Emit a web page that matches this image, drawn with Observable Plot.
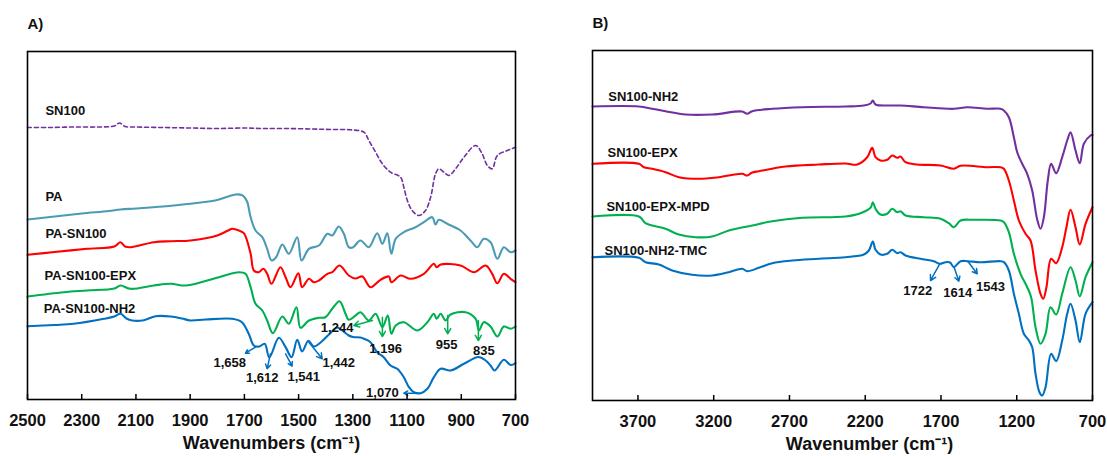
<!DOCTYPE html>
<html><head><meta charset="utf-8">
<script src="https://cdn.jsdelivr.net/npm/d3@7"></script>
<script src="https://cdn.jsdelivr.net/npm/@observablehq/plot@0.6"></script>
<style>
body{margin:0;background:#fff;font-family:"Liberation Sans",Arial,sans-serif;}
#wrap{position:relative;width:1107px;height:456px;overflow:hidden;background:#fff}
#a{position:absolute;left:0;top:0}
#b{position:absolute;left:550px;top:0}
</style></head><body><div id="wrap"><div id="a"></div><div id="b"></div></div>
<script>
// ---------- Panel A data: [wavenumber (cm-1), transmittance (a.u., offset)] ----------
const ticksA = [2500, 2300, 2100, 1900, 1700, 1500, 1300, 1100, 900, 700];
const SN100 = [[2500,272],[2420,272],[2330,272.5],[2240,272.5],[2180,273.5],[2160,276.5],[2140,273],[2100,272.5],[2000,272],[1900,271.5],[1800,271],[1700,271.5],[1634,271],[1550,271],[1450,270.5],[1380,270],[1310,269.7],[1259,267.3],[1241,259],[1216,247.3],[1191,235.7],[1161,227.3],[1124,222.3],[1112,212.3],[1099,199],[1081,189],[1056,184],[1032,189],[1013,202.3],[995,225.7],[983,230.7],[964,227.3],[946,224],[921,230.7],[890,242.3],[847,254],[823,245.7],[804,234],[786,230.7],[767,244],[730,249],[700,252.3]];
const PA = [[2500,180],[2400,183],[2300,186],[2200,188.5],[2157,190],[2100,191],[2000,193],[1899,195.7],[1800,199.5],[1760,203],[1733,205],[1710,204.5],[1702,203],[1690,198],[1677,182.3],[1659,169],[1634,162.3],[1616,150.7],[1600,139],[1583,142.3],[1560,155],[1536,145.7],[1505,162.3],[1489,139],[1462,150.7],[1425,154],[1394,165.7],[1376,164],[1352,173],[1333,165.7],[1315,152.3],[1300,152],[1272,159],[1241,152.3],[1210,166.3],[1191,155.7],[1173,166.3],[1158,145.7],[1142,160.7],[1112,167.3],[1069,172.3],[1038,177.3],[1007,182.3],[995,175],[983,179.7],[952,175.7],[903,169],[866,159],[841,152.3],[817,160.7],[792,157.3],[767,140.7],[743,152.3],[718,147.3],[700,149]];
const PA_SN100 = [[2500,144.7],[2400,147.5],[2280,150.7],[2180,153],[2157,157.3],[2140,153],[2120,152.3],[2034,157.3],[1972,158.3],[1899,159],[1800,164],[1760,169],[1745,170.7],[1720,169],[1702,166.3],[1677,145.7],[1665,129],[1647,127.3],[1630,130.7],[1616,125.7],[1600,115.7],[1567,132.3],[1548,122.3],[1530,112.3],[1501,126.3],[1487,112.3],[1462,120.7],[1444,117.3],[1425,119],[1394,125.7],[1376,127.3],[1349,134],[1315,124],[1290,121],[1265,123],[1235,112.3],[1198,119.7],[1167,123],[1158,117.3],[1124,124],[1087,120.7],[1038,125.7],[1001,135.7],[991,132.3],[976,135],[903,134],[853,127.3],[810,134],[786,125.7],[767,116.3],[743,125.7],[718,120.7],[700,117.3]];
const PA_SN100_EPX = [[2500,103],[2366,107.3],[2280,109],[2180,111],[2157,114],[2120,110.7],[2034,114],[1972,115.7],[1917,114],[1850,118],[1794,122.3],[1720,127.3],[1696,125.7],[1677,112.3],[1659,95.7],[1634,89],[1616,79],[1595,66.3],[1560,83],[1536,75.7],[1508,92.3],[1493,71.7],[1462,79],[1425,81.7],[1401,82.3],[1376,90.7],[1349,98.3],[1327,85.7],[1315,79.7],[1290,84],[1272,87.3],[1241,79],[1216,85.7],[1191,72.3],[1171,84],[1158,65.7],[1142,74],[1112,77.3],[1062,69],[1025,77.3],[1001,85.7],[991,80.7],[976,85.7],[958,79],[940,85],[884,87.3],[847,80.7],[835,69],[817,77.3],[792,73],[767,63],[743,73],[718,70.7],[700,73]];
const PA_SN100_NH2 = [[2500,73.3],[2400,74.5],[2330,75.7],[2218,80.7],[2180,83],[2157,85.7],[2135,81],[2114,79],[2071,79.3],[2028,83.3],[1972,83],[1930,81],[1899,79],[1843,80],[1745,80.7],[1709,77.3],[1684,65.7],[1665,54],[1645,53],[1625,55.7],[1608,42],[1573,61.7],[1548,52.3],[1526,42.3],[1505,59.7],[1487,48],[1464,58.7],[1444,53],[1419,57],[1388,65],[1358,72],[1339,69],[1315,64],[1300,62.5],[1272,62],[1259,60.7],[1235,57.3],[1210,47.3],[1186,42.3],[1161,34],[1136,30.7],[1112,22.3],[1093,12.3],[1075,7.3],[1050,6.3],[1025,10.7],[1001,22.3],[976,30.7],[940,29],[890,35.7],[837,42.5],[810,39],[792,34],[777,29],[743,39.7],[718,34.5],[700,36.5]];
const namesA = ["SN100", "PA", "PA-SN100", "PA-SN100-EPX", "PA-SN100-NH2"];
const labelWnA = [2434, 2434, 2434, 2437, 2440];
const labelValA = [288.3, 202.3, 165.7, 123.3, 90.3];
const peaksA = ["1,658", "1,612", "1,541", "1,442", "1,244", "1,196", "955", "835", "1,070"];
const peakTextWnA = [1754, 1634, 1481, 1352, 1358, 1179, 954, 817, 1191];
const peakTextValA = [36.3, 21.3, 22.3, 36.3, 71.7, 50.7, 55, 49, 6.3];
const arrowFromA = [[1659,52.3],[1604,45.7],[1548,45.7],[1462,57.3],[1228,79],[1191,82.3],[950,84],[837,79],[1062,6.3]];
const arrowToA = [[1696,46.3],[1616,30.7],[1524,33.3],[1413,40.7],[1296,74],[1191,63],[950,65.7],[837,59],[1112,6.3]];
const arrowSeriesA = ["PA-SN100-NH2","PA-SN100-NH2","PA-SN100-NH2","PA-SN100-NH2","PA-SN100-EPX","PA-SN100-EPX","PA-SN100-EPX","PA-SN100-EPX","PA-SN100-NH2"];

// ---------- Panel B data ----------
const ticksB = [3700, 3200, 2700, 2200, 1700, 1200, 700];
const SN100_NH2 = [[4000,294],[3694,294],[3606,291.7],[3518,289.3],[3386,286],[3210,286],[3012,289],[2979,286.7],[2946,289.3],[2814,291.7],[2616,293.3],[2330,294],[2209,295],[2165,297],[2150,300],[2132,296],[2033,295],[1967,295],[1813,293.3],[1615,291.7],[1527,293.3],[1395,291.7],[1307,291.7],[1285,290],[1252,283.3],[1219,263.3],[1197,248.3],[1164,236.7],[1131,226.7],[1098,210],[1065,181],[1043,171.7],[1021,183.3],[995,220],[973,236.7],[940,227.3],[900,243.3],[867,260],[845,268.3],[812,250],[784,237.3],[757,256.7],[713,265],[700,265.7]];
const SN100_EPX = [[4000,236.7],[3694,236.7],[3661,233.3],[3606,231.7],[3518,228.3],[3430,223.3],[3298,221.7],[3166,223.3],[3012,226.7],[2979,225],[2946,228],[2902,229.3],[2726,234],[2506,236],[2330,237],[2253,236],[2187,243.3],[2154,252.7],[2132,243.3],[2099,240],[2055,240.7],[2022,245],[1989,242.7],[1967,244],[1934,238.3],[1857,236],[1703,235],[1615,231.7],[1571,234.7],[1395,233.3],[1307,233.3],[1285,231.7],[1252,220],[1219,200],[1186,180],[1142,166.7],[1109,160],[1076,130],[1043,106.7],[1025,101.7],[1004,113.3],[973,141.7],[940,137.3],[900,153.3],[872,173.3],[845,190.7],[812,173.3],[784,156],[746,176.7],[700,193.3]];
const SN100_EPX_MPD = [[4000,184],[3694,184],[3650,177.3],[3606,175],[3518,171.7],[3430,166],[3320,163.3],[3210,164],[3100,170],[2946,175],[2814,179.3],[2616,182.7],[2330,184],[2231,187.3],[2165,192.7],[2150,198.3],[2132,191.7],[2099,186],[2055,186.7],[2022,191.7],[1989,188.3],[1967,189.3],[1934,185],[1813,183.3],[1703,181.7],[1648,177.3],[1615,173.3],[1571,180],[1483,180.7],[1307,180],[1285,178.3],[1252,168.3],[1219,146.7],[1175,126.7],[1131,113.3],[1105,103.3],[1076,73.3],[1043,56.7],[1010,66.7],[977,93.3],[940,86],[900,106.7],[845,133.3],[812,120],[784,104],[746,123.3],[700,138.3]];
const SN100_NH2_TMC = [[4000,143.3],[3694,142.7],[3650,138.3],[3562,136],[3474,130],[3342,125.7],[3210,125],[3100,128.3],[3012,131.7],[2979,129.3],[2902,132.7],[2814,137.3],[2682,140],[2506,141.7],[2330,143.3],[2209,146],[2176,150],[2150,159],[2132,150.7],[2099,146],[2055,146.7],[2022,150.7],[1989,147.3],[1967,148.3],[1934,145],[1835,141.7],[1747,139.3],[1708,136.7],[1670,138.3],[1640,138],[1615,133.3],[1571,139.3],[1523,139.3],[1439,138.3],[1307,139.3],[1285,138.3],[1252,130],[1219,106.7],[1186,86.7],[1153,66.7],[1120,60],[1098,53.3],[1076,26.7],[1050,8.3],[1032,5],[1010,13.3],[973,46.7],[940,39.3],[900,60],[867,86.7],[845,96.7],[812,80],[784,58.3],[746,86.7],[700,98.3]];
const namesB = ["SN100-NH2", "SN100-EPX", "SN100-EPX-MPD", "SN100-NH2-TMC"];
const labelWnB = [3896, 3901, 3908, 3921];
const labelValB = [303.3, 247.3, 194, 149.3];
const peaksB = ["1722", "1614", "1543"];
const peakTextWnB = [1853, 1589, 1373];
const peakTextValB = [110, 107.3, 114];
const arrowFromB = [[1708,136.7],[1615,134],[1523,139.3]];
const arrowToB = [[1769,120],[1582,119.3],[1461,126.7]];

// ---------- styles ----------
const colorA = {"SN100":"#7030A0","PA":"#4C9BB4","PA-SN100":"#FF0000","PA-SN100-EPX":"#00B050","PA-SN100-NH2":"#0070C0"};
const colorB = {"SN100-NH2":"#7030A0","SN100-EPX":"#FF0000","SN100-EPX-MPD":"#00B050","SN100-NH2-TMC":"#0070C0"};
const FONT = "'Liberation Sans', Arial, sans-serif";

function toRows(pairs){ return pairs.map(([wn, v]) => ({wn, v})); }

function panel(o){
  const innerH = o.height - o.mt - o.mb;
  const marks = [];
  o.series.forEach((s, i) => {
    const dashed = o.dashed && o.dashed[i];
    marks.push(Plot.line(toRows(s), {x:"wn", y:"v", stroke:o.colors[o.names[i]],
      curve:"catmull-rom", strokeDasharray: dashed ? "4,3" : null,
      strokeWidth: dashed ? 1.6 : 2.1}));
  });
  const labels = o.names.map((n, i) => ({n, x:o.labelWn[i], y:o.labelVal[i]}));
  marks.push(Plot.text(labels, {x:"x", y:"y", text:"n", textAnchor:"start", fontSize:13, fontWeight:"bold", fill:"#111"}));
  const arr = o.arrowFrom.map((f, i) => ({x1:f[0], y1:f[1], x2:o.arrowTo[i][0], y2:o.arrowTo[i][1], c:o.arrowColor[i]}));
  for (const c of new Set(arr.map(d => d.c))) {
    marks.push(Plot.arrow(arr.filter(d => d.c === c), {x1:"x1", y1:"y1", x2:"x2", y2:"y2", stroke:c, strokeWidth:1.5, headLength:6}));
  }
  const notes = o.peaks.map((t, i) => ({t, x:o.peakWn[i], y:o.peakVal[i]}));
  marks.push(Plot.text(notes, {x:"x", y:"y", text:"t", fontSize:13, fontWeight:"bold", fill:"#111"}));
  marks.push(Plot.tickX(o.ticks, {x:d=>d, insetTop: innerH - 5, stroke:"#000", strokeWidth:1.5}));
  marks.push(Plot.frame({stroke:"#000", strokeWidth:1.6}));
  marks.push(Plot.axisX(o.ticks, {tickSize:0, tickPadding:15, tickFormat:d=>String(d), fontSize:16.5, fontWeight:"bold", label:null, fill:"#111"}));
  marks.push(Plot.text([o.tag], {frameAnchor:"top-left", dy:-33, textAnchor:"start", fontSize:15, fontWeight:"bold", fill:"#111"}));
  marks.push(Plot.text([o.title], {frameAnchor:"bottom", dy:49, dx:o.titleDx || 0, fontSize:18, fontWeight:"bold", fill:"#111"}));
  return Plot.plot({
    width:o.width, height:o.height,
    marginLeft:o.ml, marginRight:o.mr, marginTop:o.mt, marginBottom:o.mb,
    x:{domain:o.domain},
    y:{domain:[0, o.yMax], axis:null},
    style:{fontFamily:FONT, background:"#fff", overflow:"visible"},
    marks
  });
}

const A = panel({
  width:550, height:456, ml:27, mr:35, mt:51, mb:57,
  domain:[2500, 700], yMax:348, ticks:ticksA,
  series:[SN100, PA, PA_SN100, PA_SN100_EPX, PA_SN100_NH2], names:namesA, colors:colorA,
  dashed:[true, false, false, false, false],
  labelWn:labelWnA, labelVal:labelValA,
  peaks:peaksA, peakWn:peakTextWnA, peakVal:peakTextValA,
  arrowFrom:arrowFromA, arrowTo:arrowToA, arrowColor:arrowSeriesA.map(s => colorA[s]),
  tag:"A)", title:"Wavenumbers (cm\u207B\u00B9)"
});
const B = panel({
  width:557, height:456, ml:42, mr:15, mt:50, mb:56,
  domain:[4000, 700], yMax:350, ticks:ticksB,
  series:[SN100_NH2, SN100_EPX, SN100_EPX_MPD, SN100_NH2_TMC], names:namesB, colors:colorB,
  labelWn:labelWnB, labelVal:labelValB,
  peaks:peaksB, peakWn:peakTextWnB, peakVal:peakTextValB,
  arrowFrom:arrowFromB, arrowTo:arrowToB, arrowColor:arrowFromB.map(() => colorB["SN100-NH2-TMC"]),
  tag:"B)", title:"Wavenumber (cm\u207B\u00B9)", titleDx:27
});
document.getElementById("a").appendChild(A);
document.getElementById("b").appendChild(B);
</script></body></html>
